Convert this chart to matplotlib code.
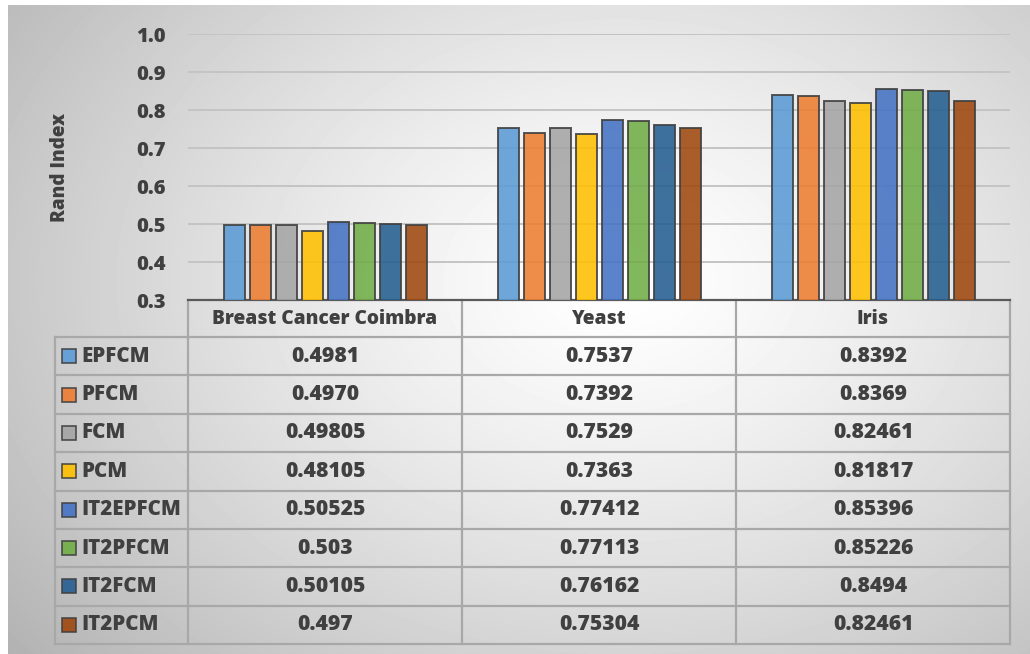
import matplotlib.pyplot as plt
import numpy as np

datasets = ['Breast Cancer Coimbra', 'Yeast', 'Iris']
methods = ['EPFCM', 'PFCM', 'FCM', 'PCM', 'IT2EPFCM', 'IT2PFCM', 'IT2FCM', 'IT2PCM']
bcc_vals = ['0.4981', '0.4970', '0.49805', '0.48105', '0.50525', '0.503', '0.50105', '0.497']
yeast_vals = ['0.7537', '0.7392', '0.7529', '0.7363', '0.77412', '0.77113', '0.76162', '0.75304']
iris_vals = ['0.8392', '0.8369', '0.82461', '0.81817', '0.85396', '0.85226', '0.8494', '0.82461']
colors = ['#5B9BD5', '#ED7D31', '#A5A5A5', '#FFC000', '#4472C4', '#70AD47', '#255E91', '#9E480E']
yticks = [0.3, 0.4, 0.5, 0.6, 0.7, 0.8, 0.9, 1.0]

plt.rcParams['font.family'] = ['Open Sans', 'DejaVu Sans']
txt = '#404040'
fw = 800

W, H = 1030, 654
fig = plt.figure(figsize=(W / 100, H / 100), dpi=100)

# background with soft radial gradient (excel style)
bg = fig.add_axes([0, 0, 1, 1])
bg.set_xlim(0, W)
bg.set_ylim(H, 0)
bg.axis('off')
yy, xx = np.mgrid[5:H, 8:W]
d = np.sqrt(((xx - 620) / 620.0) ** 2 + ((yy - 280) / 460.0) ** 2)
g = 1 - 0.22 * np.clip(d, 0, 1.4) ** 1.3
bg.imshow(g, cmap='gray', vmin=0, vmax=1, extent=[8, W, H, 5], aspect='auto',
          interpolation='bilinear', zorder=0)

# bar chart area
left, right, base, top = 188, 1010, 300, 34
ax = fig.add_axes([left / W, (H - base) / H, (right - left) / W, (base - top) / H])
ax.patch.set_alpha(0)
ax.set_xlim(-0.5, 2.5)
ax.set_ylim(0.3, 1.0)
ax.set_yticks(yticks)
ax.set_yticklabels([f'{t:.1f}' for t in yticks])
ax.tick_params(axis='y', length=0, pad=16, labelsize=14.5, labelcolor=txt)
for lab in ax.get_yticklabels():
    lab.set_fontweight(fw)
ax.set_xticks([])
ax.grid(True, axis='y', color='#c4c4c4', linewidth=1.4, zorder=0)
ax.set_axisbelow(True)
for s in ['top', 'right', 'left']:
    ax.spines[s].set_visible(False)
ax.spines['bottom'].set_color('#5a5a5a')
ax.spines['bottom'].set_linewidth(1.6)

all_vals = [bcc_vals, yeast_vals, iris_vals]
slot = 26 / 274
bw = 21 / 274
x = np.arange(len(datasets))
for i, m in enumerate(methods):
    vals = [float(v[i]) for v in all_vals]
    ax.bar(x + (i - 3.5) * slot, vals, bw, color=colors[i], alpha=0.88,
           edgecolor=(0.25, 0.25, 0.25, 0.7), linewidth=1.4, zorder=3)

bg.text(60, 167, 'Rand Index', rotation=90, ha='center', va='center',
        fontsize=13.6, fontweight=fw, color=txt, zorder=5)

# data table below the axis
col_x = [188, 462, 736, 1010]
leg_left = 55
head_bot = 337
tab_bot = 644
row_h = (tab_bot - head_bot) / len(methods)
lc = '#a8a8a8'
lw = 1.6

for cx in col_x:
    bg.plot([cx, cx], [base, tab_bot], color=lc, lw=lw, zorder=4)
bg.plot([leg_left, leg_left], [head_bot, tab_bot], color=lc, lw=lw, zorder=4)
for r in range(len(methods) + 1):
    yl = head_bot + r * row_h
    bg.plot([leg_left, col_x[-1]], [yl, yl], color=lc, lw=lw, zorder=4)

for j, name in enumerate(datasets):
    bg.text((col_x[j] + col_x[j + 1]) / 2, (base + head_bot) / 2, name,
            ha='center', va='center', fontsize=13.8, fontweight=fw, color=txt, zorder=5)

for i, m in enumerate(methods):
    yc = head_bot + (i + 0.5) * row_h
    bg.add_patch(plt.Rectangle((62, yc - 7), 14, 14, facecolor=colors[i], alpha=0.9,
                               edgecolor=(0.25, 0.25, 0.25, 0.7), lw=1.2, zorder=5))
    bg.text(81, yc, m, ha='left', va='center', fontsize=14.8, fontweight=fw,
            color=txt, zorder=5)
    for j in range(len(datasets)):
        bg.text((col_x[j] + col_x[j + 1]) / 2, yc, all_vals[j][i],
                ha='center', va='center', fontsize=15.2, fontweight=fw, color=txt, zorder=5)

fig.savefig('out.png', dpi=100)
